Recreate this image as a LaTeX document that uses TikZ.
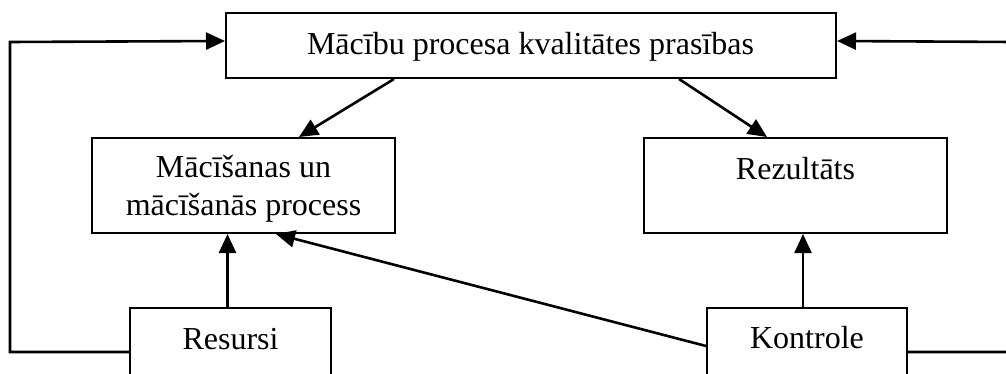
\documentclass[tikz,border=0pt]{standalone}
\usepackage{fontspec}
\setmainfont{Liberation Serif}
\usetikzlibrary{arrows.meta,calc}
\begin{document}
\begin{tikzpicture}[x=1pt,y=-1pt,
  box/.style={draw,line width=2pt,inner sep=0pt},
  lbl/.style={inner sep=0pt,anchor=base,font=\fontsize{32}{36.6}\selectfont},
  conn/.style={line width=2.6pt,-{Triangle[length=19pt,width=17pt]}},
  plainline/.style={line width=2.6pt}]
\useasboundingbox (0,0) rectangle (1006,374);
\clip (0,0) rectangle (1006,374);
% boxes
\node[box,minimum width=610pt,minimum height=65pt] (top) at (531,45.5) {};
\node[box,minimum width=303pt,minimum height=95pt] (lp) at (243.5,185.5) {};
\node[box,minimum width=303pt,minimum height=95pt] (rp) at (795.5,185.5) {};
\node[box,minimum width=201pt,minimum height=92pt] (res) at (230.5,354) {};
\node[box,minimum width=200pt,minimum height=92pt] (kon) at (807,354) {};
% labels
\node[lbl] (topT) at (530.5,55) {Mācību procesa kvalitātes prasības};
\node[lbl] (lpT1) at (243.5,178) {Mācīšanas un};
\node[lbl] (lpT2) at (243.5,215) {mācīšanās process};
\node[lbl] (rpT) at (795.5,180) {Rezultāts};
\node[lbl] (resT) at (230.5,349) {Resursi};
\node[lbl] (konT) at (807,348) {Kontrole};
% helper coordinates
\coordinate (fbL) at (10,42);
\coordinate (fbR) at (1012,42);
\coordinate (rs) at ($(res.north)+(-3,0)$);
\coordinate (ks) at ($(kon.north)+(-4,0)$);
% connectors
\draw[conn] ($(top.south west)+(169,0)$) -- ($(lp.north west)+(208,0)$);
\draw[conn] ($(top.south west)+(454,0)$) -- ($(rp.north west)+(124,0)$);
\draw[conn] (rs) -- (rs |- lp.south);
\draw[conn] (ks) -- (ks |- rp.south);
\draw[conn] ($(kon.north west)+(0,39)$) -- ($(lp.south west)+(185,0)$);
\draw[conn] ($(res.north west)+(0,45)$) -| (fbL) -- ($(top.north west)+(0,29)$);
\draw[conn] ($(kon.north east)+(0,45)$) -| (fbR) -- ($(top.north east)+(0,29)$);
\end{tikzpicture}
\end{document}
